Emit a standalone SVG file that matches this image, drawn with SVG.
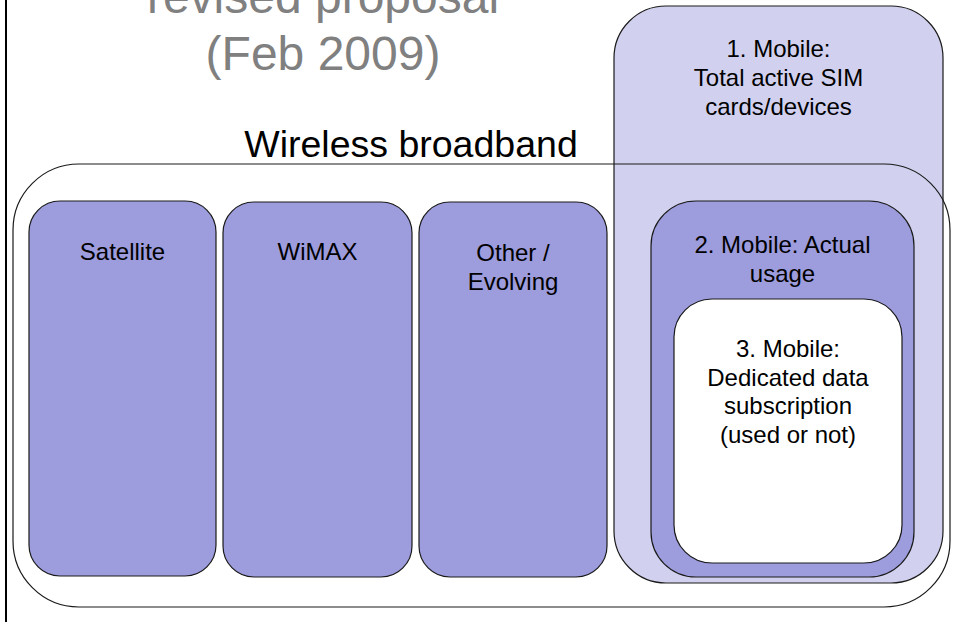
<svg xmlns="http://www.w3.org/2000/svg" width="954" height="625" viewBox="0 0 954 625">
<style>
.box{stroke:#1a1a1a;stroke-width:1.2}
.med{fill:#9D9CDD}
.light{fill:#D1D1EF}
.lbl{font-family:"Liberation Sans",Arial,sans-serif;font-size:24px;fill:#000;text-anchor:middle}
.title{font-family:"Liberation Sans",Arial,sans-serif;font-size:48px;fill:#808080;text-anchor:middle}
</style>
<rect width="954" height="625" fill="#fff"/>
<line x1="6" y1="0" x2="6" y2="622" stroke="#000" stroke-width="2"/>
<g id="title">
<text class="title" x="323" y="13">revised proposal</text>
<text class="title" x="323" y="70">(Feb 2009)</text>
</g>
<g id="mobile1">
<rect class="box light" x="614" y="6" width="329" height="577" rx="52" ry="52"/>
<text class="lbl" x="778.5" y="57">1. Mobile:</text>
<text class="lbl" x="778.5" y="86">Total active SIM</text>
<text class="lbl" x="778.5" y="115">cards/devices</text>
</g>
<g id="wireless">
<rect class="box" fill="none" x="13" y="164" width="937" height="443" rx="66" ry="66"/>
<text class="lbl" style="font-size:37.5px" x="411" y="157">Wireless broadband</text>
</g>
<g id="satellite">
<rect class="box med" x="29" y="201" width="187" height="375" rx="31" ry="31"/>
<text class="lbl" x="122.5" y="260">Satellite</text>
</g>
<g id="wimax">
<rect class="box med" x="223" y="202" width="189" height="375" rx="31" ry="31"/>
<text class="lbl" x="317.5" y="260">WiMAX</text>
</g>
<g id="other">
<rect class="box med" x="419" y="202" width="188" height="375" rx="31" ry="31"/>
<text class="lbl" x="513" y="261">Other /</text>
<text class="lbl" x="513" y="290">Evolving</text>
</g>
<g id="mobile2">
<rect class="box med" x="651" y="201" width="263" height="376" rx="45" ry="45"/>
<text class="lbl" x="782.5" y="253">2. Mobile: Actual</text>
<text class="lbl" x="782.5" y="282">usage</text>
</g>
<g id="mobile3">
<rect class="box" fill="#fff" x="674" y="299" width="228" height="264" rx="38" ry="38"/>
<text class="lbl" x="788" y="357">3. Mobile:</text>
<text class="lbl" x="788" y="386">Dedicated data</text>
<text class="lbl" x="788" y="414">subscription</text>
<text class="lbl" x="788" y="443">(used or not)</text>
</g>
<g id="connectors"></g>
</svg>
